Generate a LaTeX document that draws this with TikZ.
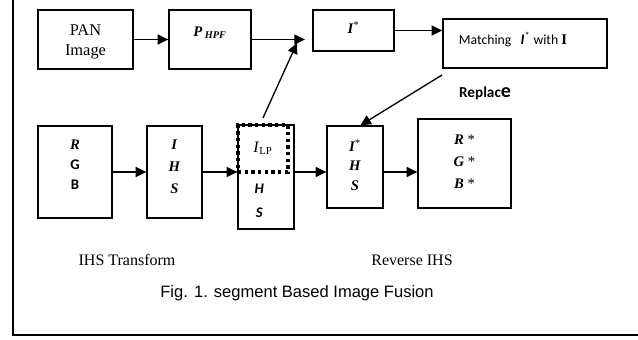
\documentclass[tikz,border=0pt]{standalone}
\usepackage{fontspec}
\setmainfont{Liberation Serif}
\newfontfamily\calfont{Carlito}
\newfontfamily\arialfont{Liberation Sans}
\usetikzlibrary{arrows.meta}
\newcommand{\lw}{1pt}
\newcommand{\bfit}[1]{\textbf{\textit{#1}}}

\begin{document}
\begin{tikzpicture}[x=0.75pt, y=-0.75pt,
  blk/.style={draw, line width=\lw, inner sep=0pt},
  txt/.style={align=center, inner sep=0pt, font=\fontsize{11}{15}\selectfont},
  flow/.style={line width=\lw, -{Triangle[length=8pt, width=7.5pt]}},
  dotbox/.style={draw, line width=2.6pt, dash pattern=on 2.6pt off 2.4pt, inner sep=0pt}]
  \useasboundingbox (0,0) rectangle (638,339);
  \draw[line width=1.5pt] (13,0) -- (13,335) -- (638,335);

  % top row
  \node[blk, minimum width=71.25pt, minimum height=44.25pt,
    label={[txt, anchor=north, yshift=-11pt, font=\fontsize{12.3}{15}\selectfont]north:{PAN\\Image}}] (pan) at (85.5,39.5) {};
  \node[blk, minimum width=61.5pt, minimum height=44.25pt,
    label={[txt, anchor=north, yshift=-13pt]north:\bfit{P}\,\textsubscript{\bfit{HPF}}}] (phpf) at (210,39.5) {};
  \node[blk, minimum width=60.75pt, minimum height=30.75pt,
    label={[txt, anchor=north, yshift=-9pt]north:\bfit{I}\textsuperscript{*}}] (istar) at (353.5,30.5) {};
  \node[blk, minimum width=123pt, minimum height=36.75pt,
    label={[txt, anchor=north, yshift=-10pt, xshift=-9pt]north:{\calfont\fontsize{10.3}{12}\selectfont Matching\hspace{7pt}{\fontsize{11}{12}\selectfont\bfit{I}\textsuperscript{*}} with {\rmfamily\bfseries\fontsize{11}{12}\selectfont I}}}] (match) at (525,43.5) {};
  \node[txt, font=\calfont\bfseries\fontsize{11.4}{13}\selectfont] (replace) at (485,93) {Replac{\fontsize{15}{15}\selectfont e}};

  % bottom row
  \node[blk, minimum width=55.5pt, minimum height=69pt,
    label={[txt, anchor=north, yshift=-11pt]north:{\bfit{R}\\{\calfont\bfseries G}\\{\calfont\bfseries B}}}] (rgb) at (75,172) {};
  \node[blk, minimum width=41.25pt, minimum height=69pt,
    label={[txt, anchor=north, yshift=-11pt, font=\fontsize{11}{16.5}\selectfont]north:{\bfit{I}\\\bfit{H}\\\bfit{S}}}] (ihs) at (174.5,172) {};
  \node[blk, minimum width=42pt, minimum height=78pt,
    label={[txt, anchor=south, xshift=-5pt, yshift=9pt, font=\calfont\bfseries\itshape\fontsize{11}{18}\selectfont]south:{H\\S}}] (ilp) at (266,177) {};
  \node[dotbox, minimum width=37.5pt, minimum height=35.25pt, font=\fontsize{12}{14}\selectfont] (lp) at (263,148.5) {\textit{I}\textsubscript{LP}};
  \node[blk, minimum width=42pt, minimum height=61.5pt,
    label={[txt, anchor=north, yshift=-10.5pt, font=\fontsize{11}{14.5}\selectfont]north:{\bfit{I}\textsuperscript{*}\\\bfit{H}\\\bfit{S}}}] (ihsb) at (355,167) {};
  \node[blk, minimum width=69.75pt, minimum height=66.75pt,
    label={[txt, anchor=north, yshift=-12.5pt, font=\fontsize{11}{16.5}\selectfont]north:{\bfit{R} *\\\bfit{G} *\\\bfit{B} *}}] (rgbs) at (464.5,163.5) {};

  \node[font=\fontsize{12}{14}\selectfont] (ihst) at (127,260) {IHS Transform};
  \node[font=\fontsize{12}{14}\selectfont] (rev) at (412,260) {Reverse IHS};
  \node[font=\arialfont\fontsize{12.4}{14}\selectfont] (cap) at (297,293) {Fig. 1. segment Based Image Fusion};

  \coordinate (hpfend) at (305,38);
  \coordinate (lpend) at (297,43);
  \coordinate (mtail) at (442,75);

  \draw[flow] (pan) -- (phpf);
  \draw[flow] (phpf.east) -- (phpf.east -| hpfend);
  \draw[flow] ([yshift=4pt]lp.north) -- (lpend);
  \draw[flow] (istar.east) -- (istar.east -| match.west);
  \draw[flow] (mtail) -- ([xshift=4pt]ihsb.north);
  \draw[flow] (rgb) -- (ihs);
  \draw[flow] (ihs.east) -- (ihs.east -| ilp.west);
  \draw[flow] (ihs.east -| ilp.east) -- (ihs.east -| ihsb.west);
  \draw[flow] (rgb.east -| ihsb.east) -- (rgb.east -| rgbs.west);
\end{tikzpicture}
\end{document}
